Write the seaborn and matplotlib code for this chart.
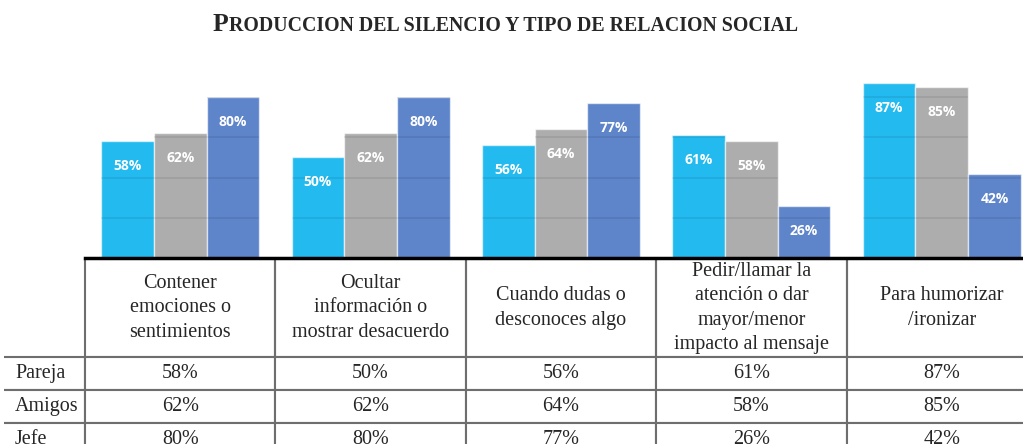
import numpy as np
import pandas as pd
import matplotlib
matplotlib.use("Agg")
import matplotlib.pyplot as plt
import seaborn as sns

# Datos del grafico
categorias = ["Contener\nemociones o\nsentimientos",
              "Ocultar\ninformación o\nmostrar desacuerdo",
              "Cuando dudas o\ndesconoces algo",
              "Pedir/llamar la\natención o dar\nmayor/menor\nimpacto al mensaje",
              "Para humorizar\n/ironizar"]
relaciones = ["Pareja", "Amigos", "Jefe"]
pareja = [58, 50, 56, 61, 87]
amigos = [62, 62, 64, 58, 85]
jefe = [80, 80, 77, 26, 42]
colores = ["#23baf0", "#adadad", "#5e84ca"]
titulo_inicial = "P"
titulo_resto = "RODUCCION DEL SILENCIO Y TIPO DE RELACION SOCIAL"

df = pd.DataFrame({
    "categoria": categorias * len(relaciones),
    "relacion": np.repeat(relaciones, len(categorias)),
    "valor": pareja + amigos + jefe,
})

sns.set_style("white")
plt.rcParams["font.family"] = ["Liberation Serif", "DejaVu Serif"]

# layout in pixels
W, H = 1023, 444
ax_left, ax_right, ax_top, ax_base = 85, 1037, 57, 258
label_w = 85
head_h, row_h = 98, 33
ax_w = ax_right - ax_left
ax_h = ax_base - ax_top

fig = plt.figure(figsize=(W / 100, H / 100), dpi=100)
ax = fig.add_axes([ax_left / W, 1 - ax_base / H, ax_w / W, ax_h / H])

sns.barplot(data=df, x="categoria", y="valor", hue="relacion", palette=colores,
            width=0.83, saturation=1, edgecolor=(1, 1, 1, 0.6), linewidth=1,
            legend=False, ax=ax)
ax.set_ylim(0, 100)
ax.set_xlim(-0.5, len(categorias) - 0.5)
ax.set(xlabel="", ylabel="", xticks=[], yticks=[])
for s in ["top", "left", "right"]:
    ax.spines[s].set_visible(False)
ax.spines["bottom"].set_color("black")
ax.spines["bottom"].set_linewidth(2.5)
ax.spines["bottom"].set_zorder(5)

# gridlines only visible inside the bars
for bar in list(ax.patches):
    for y in range(20, 101, 20):
        ln = ax.axhline(y, color="black", alpha=0.08, lw=1.3, zorder=3)
        ln.set_clip_path(bar)

for cont in ax.containers:
    ax.bar_label(cont, labels=[f"{v:.0f}%" for v in cont.datavalues],
                 padding=-23, color="white", fontsize=10, fontweight="bold",
                 family="Open Sans")

# data table under the bars (cell sizes in axes fractions)
tot_h = head_h + row_h * len(relaciones)
tabla = ax.table(cellText=[[f"{v}%" for v in s] for s in (pareja, amigos, jefe)],
                 rowLabels=relaciones, colLabels=categorias,
                 cellLoc="center", rowLoc="left", colLoc="center",
                 bbox=[0, -(1 + tot_h) / ax_h, 1, tot_h / ax_h])
tabla.auto_set_font_size(False)
tabla.set_fontsize(14.5)
for (r, c), cell in tabla.get_celld().items():
    cell.set_height((head_h if r == 0 else row_h) / ax_h)
    cell.set_width((label_w if c == -1 else ax_w / len(categorias)) / ax_w)
    cell.set_edgecolor("#6e6e6e")
    cell.set_linewidth(1.5)
    cell.set_facecolor("white")
    if r == 0:
        cell.visible_edges = "BLR"
        cell.get_text().set_linespacing(1.38)
    elif c == -1:
        cell.visible_edges = "BTR"
        cell.PAD = 0.14
    else:
        cell.visible_edges = "closed"

# title with a large first letter (small caps look)
t1 = fig.text(213 / W, 1 - 31 / H, titulo_inicial, fontsize=18.5, fontweight="bold",
              va="baseline", ha="left")
ax.annotate(titulo_resto, xy=(1, 1 - 31 / H), xycoords=(t1, "figure fraction"),
            fontsize=14.3, fontweight="bold", va="baseline", ha="left",
            annotation_clip=False)

fig.savefig("out.png", dpi=100)
